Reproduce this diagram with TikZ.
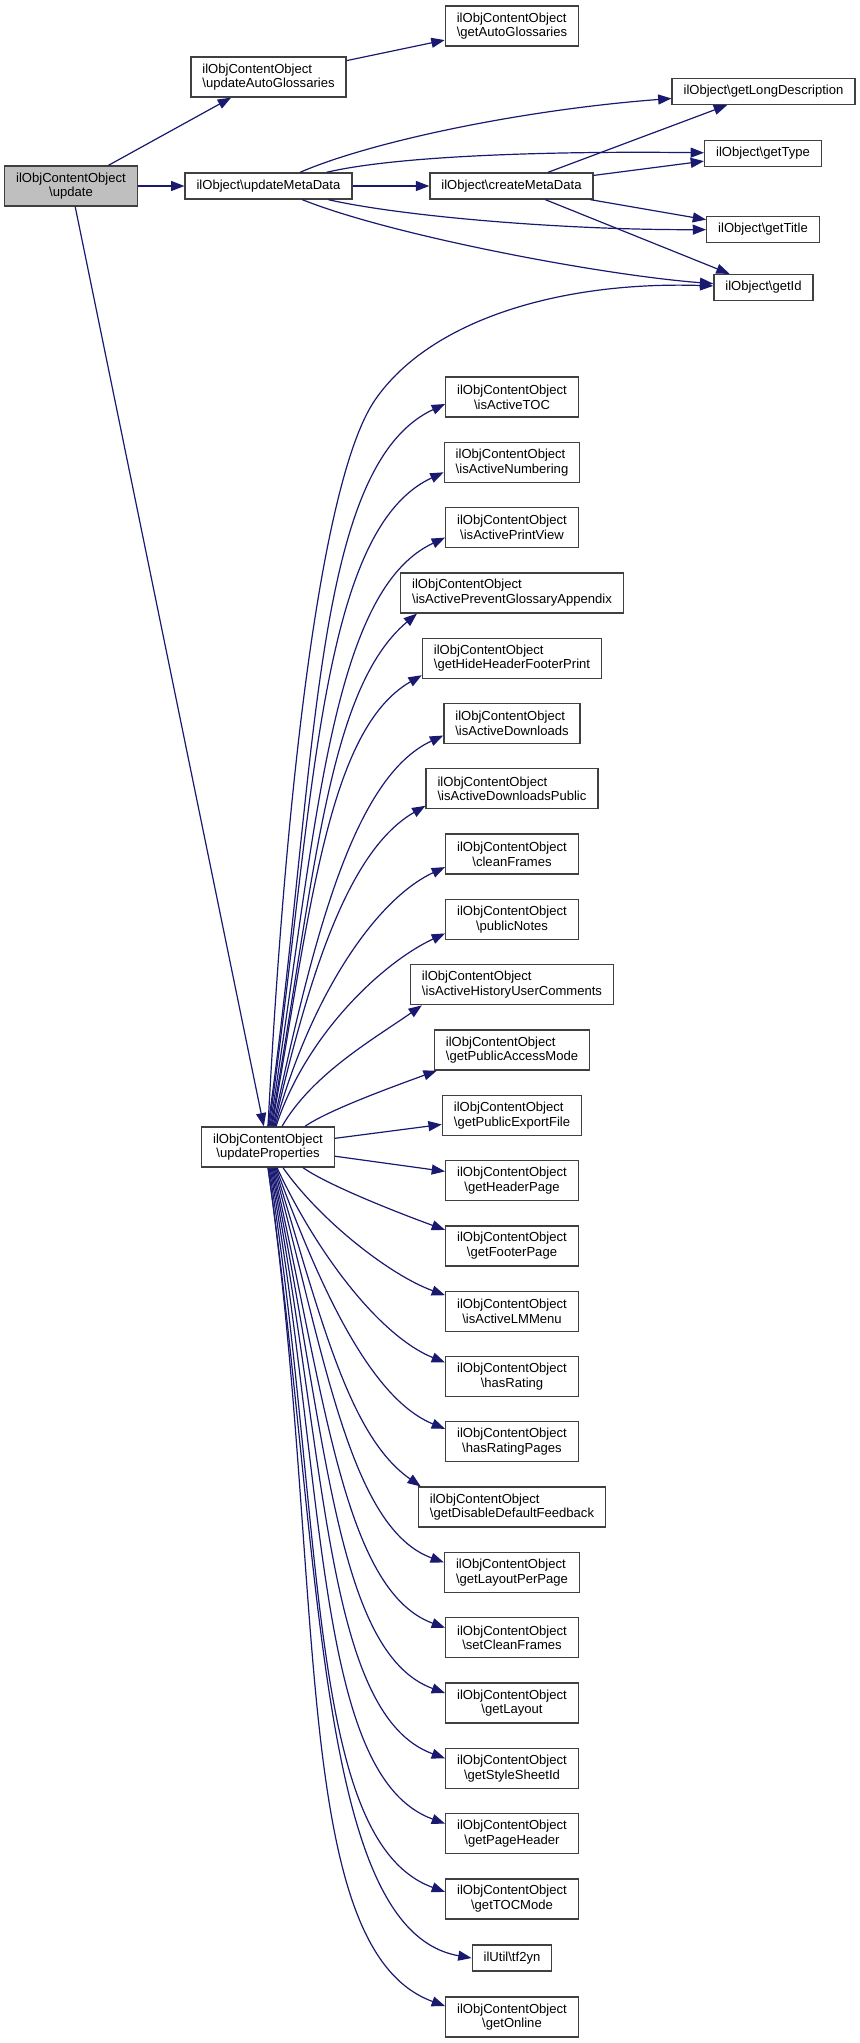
\documentclass[tikz,border=0pt]{standalone}
\usepackage{fontspec}
\setmainfont{Liberation Sans}
\usetikzlibrary{arrows.meta,calc}
\definecolor{edgeblue}{HTML}{191970}
\newcommand{\bksl}{\textbackslash}

\begin{document}
\begin{tikzpicture}[x=0.75pt, y=-0.75pt,
    func/.style={draw=black!75, line width=1pt, fill=white, inner xsep=8.6pt, inner ysep=2pt,
        minimum height=30pt, font=\fontsize{9.8}{11}\selectfont},
    single/.style={func, minimum height=19.5pt},
    call/.style={draw=edgeblue, line width=0.9pt, -{Triangle[length=10pt, width=7.5pt]}}]
    \useasboundingbox (0,0) rectangle (860,2043);

    % top part
    \node[func, fill=black!25, align=center] (update) at (71,186) {ilObjContentObject\\\bksl update};
    \node[func, align=left] (updateAutoGlossaries) at (268.5,77) {ilObjContentObject\\\bksl updateAutoGlossaries};
    \node[func, align=left] (getAutoGlossaries) at (512,26) {ilObjContentObject\\\bksl getAutoGlossaries};
    \node[single] (updateMetaData) at (268.5,186) {ilObject\bksl updateMetaData};
    \node[single] (createMetaData) at (511.5,186) {ilObject\bksl createMetaData};
    \node[single] (getLongDescription) at (763.5,91.5) {ilObject\bksl getLongDescription};
    \node[single] (getType) at (763,153.5) {ilObject\bksl getType};
    \node[single] (getTitle) at (763,229.5) {ilObject\bksl getTitle};
    \node[single] (getId) at (763.5,287.5) {ilObject\bksl getId};
    \node[func, align=center] (updateProperties) at (268,1147) {ilObjContentObject\\\bksl updateProperties};

    % column of properties
    \foreach \nm/\al [count=\k] in {isActiveTOC/center, isActiveNumbering/left, isActivePrintView/center,
        isActivePreventGlossaryAppendix/left, getHideHeaderFooterPrint/left, isActiveDownloads/left,
        isActiveDownloadsPublic/left, cleanFrames/center, publicNotes/center,
        isActiveHistoryUserComments/left, getPublicAccessMode/left, getPublicExportFile/left,
        getHeaderPage/center, getFooterPage/center, isActiveLMMenu/center, hasRating/center,
        hasRatingPages/center, getDisableDefaultFeedback/left, getLayoutPerPage/left,
        setCleanFrames/center, getLayout/center, getStyleSheetId/center, getPageHeader/center,
        getTOCMode/center}
        \node[func, align=\al] (\nm) at (512,{397+65.3*(\k-1)}) {ilObjContentObject\\\bksl\nm};
    \node[single] (tf2yn) at (512,1958) {ilUtil\bksl tf2yn};
    \node[func, align=center] (getOnline) at (512,2017) {ilObjContentObject\\\bksl getOnline};

    % calls
    \draw[call] (update) -- (updateAutoGlossaries);
    \draw[call] (updateAutoGlossaries) -- (getAutoGlossaries);
    \draw[call] (update) -- (updateMetaData);
    \draw[call] (update) -- (updateProperties);
    \draw[call] (updateMetaData) .. controls (370,142) and (520,110) .. (getLongDescription);
    \draw[call] (updateMetaData) .. controls (400,155) and (560,151) .. (getType);
    \draw[call] (updateMetaData) -- (createMetaData);
    \draw[call] (updateMetaData) .. controls (400,216) and (560,230) .. (getTitle);
    \draw[call] (updateMetaData) .. controls (390,235) and (600,275) .. (getId);
    \draw[call] (createMetaData) -- (getLongDescription);
    \draw[call] (createMetaData) -- (getType);
    \draw[call] (createMetaData) -- (getTitle);
    \draw[call] (createMetaData) -- (getId);
    \draw[call] (updateProperties.north) .. controls (285,800) and (320,480) .. (375,400)
        .. controls (430,320) and (560,281) .. (getId);
    \draw[call] (updateProperties) -- (getPublicExportFile);
    \draw[call] (updateProperties) -- (getHeaderPage);

    \foreach \nm/\an/\dx/\o/\i/\ea/\ex/\ey in {
        isActiveTOC/north/0/82/205/west/0/7,
        isActiveNumbering/north/1/82/205/west/0/10,
        isActivePrintView/north/2/81/205/west/0/10,
        isActivePreventGlossaryAppendix/north/3/80/220/south west/17/0,
        getHideHeaderFooterPrint/north/4/80/210/west/0/17,
        isActiveDownloads/north/5/78/205/west/0/12,
        isActiveDownloadsPublic/north/6/77/210/west/0/17,
        cleanFrames/north/7/75/205/west/0/13,
        publicNotes/north/8/72/205/west/0/14,
        isActiveHistoryUserComments/north/14/60/215/south west/12/0,
        getPublicAccessMode/north/37/35/200/south west/3/0,
        getFooterPage/south/35/-35/160/west/0/-16,
        isActiveLMMenu/south/15/-55/160/west/0/-16,
        hasRating/south/9/-65/158/west/0/-14,
        hasRatingPages/south/8/-70/158/west/0/-13,
        getDisableDefaultFeedback/south/7/-73/145/north west/3/0,
        getLayoutPerPage/south/6/-75/160/west/0/-10,
        setCleanFrames/south/5/-77/160/west/0/-10,
        getLayout/south/4/-78/160/west/0/-10,
        getStyleSheetId/south/3/-79/160/west/0/-10,
        getPageHeader/south/2/-80/160/west/0/-10,
        getTOCMode/south/1/-81/160/west/0/-7,
        tf2yn/south/0/-82/170/west/0/0,
        getOnline/south/0/-82/160/west/0/-11}
        \draw[call] let \p1 = ($(updateProperties.\an)+(\dx,0)$), \p2 = ($(\nm.\ea)+(\ex,\ey)$),
            \n1 = {abs(\y2-\y1)}, \n2 = {0.5*\n1}, \n3 = {0.15*\n1+30pt} in
            (\p1) to[out=\o, in=\i, out distance=\n2, in distance=\n3] (\p2);
\end{tikzpicture}
\end{document}
